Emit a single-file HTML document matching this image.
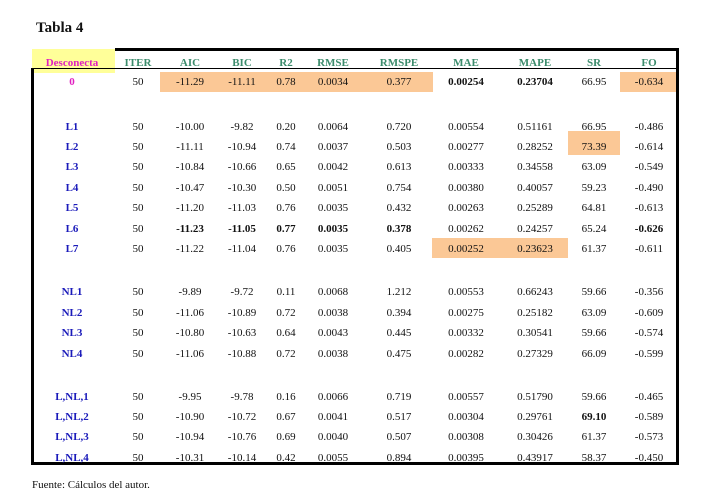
<!DOCTYPE html>
<html><head><meta charset="utf-8"><style>
body{margin:0;width:727px;height:502px;background:#fff;position:relative;overflow:hidden;font-family:"Liberation Serif",serif;font-size:11px;color:#111}
.a{position:absolute}
.t{position:absolute;width:70px;margin-left:-35px;text-align:center;line-height:14px}
.h{color:#3c8c6c;font-weight:bold}
.l{color:#1a1aba;font-weight:bold}
.b{font-weight:bold}
.hl{position:absolute;background:#fbc896}
</style></head><body>
<div class="a" style="left:36px;top:20px;font-size:15px;font-weight:bold">Tabla 4</div>
<div class="a" style="left:32px;top:49px;width:83px;height:24px;background:#ffff99"></div>
<div class="a" style="left:115px;top:48px;width:564px;height:3px;background:#000"></div>
<div class="a" style="left:33px;top:68px;width:646px;height:1px;background:#000"></div>
<div class="a" style="left:31px;top:68px;width:3px;height:397px;background:#000"></div>
<div class="a" style="left:676px;top:48px;width:3px;height:417px;background:#000"></div>
<div class="a" style="left:31px;top:462px;width:648px;height:3px;background:#000"></div>
<div class="hl" style="left:160px;top:72px;width:273px;height:20px"></div>
<div class="hl" style="left:620px;top:72px;width:56px;height:20px"></div>
<div class="hl" style="left:568px;top:131px;width:52px;height:24px"></div>
<div class="hl" style="left:432px;top:238px;width:136px;height:20px"></div>
<div class="a" style="left:32px;top:479px;font-size:11px">Fuente: Cálculos del autor.</div>
<div id="c"></div>
<script>
var xs=[72,138,190,242,286,333,399,466,535,594,649];
var H=["Desconecta","ITER","AIC","BIC","R2","RMSE","RMSPE","MAE","MAPE","SR","FO"];
var rows=[
[82,"0","50","-11.29","-11.11","0.78","0.0034","0.377","0.00254","0.23704","66.95","-0.634"],
[127,"L1","50","-10.00","-9.82","0.20","0.0064","0.720","0.00554","0.51161","66.95","-0.486"],
[147,"L2","50","-11.11","-10.94","0.74","0.0037","0.503","0.00277","0.28252","73.39","-0.614"],
[167,"L3","50","-10.84","-10.66","0.65","0.0042","0.613","0.00333","0.34558","63.09","-0.549"],
[188,"L4","50","-10.47","-10.30","0.50","0.0051","0.754","0.00380","0.40057","59.23","-0.490"],
[208,"L5","50","-11.20","-11.03","0.76","0.0035","0.432","0.00263","0.25289","64.81","-0.613"],
[229,"L6","50","-11.23","-11.05","0.77","0.0035","0.378","0.00262","0.24257","65.24","-0.626"],
[249,"L7","50","-11.22","-11.04","0.76","0.0035","0.405","0.00252","0.23623","61.37","-0.611"],
[292,"NL1","50","-9.89","-9.72","0.11","0.0068","1.212","0.00553","0.66243","59.66","-0.356"],
[313,"NL2","50","-11.06","-10.89","0.72","0.0038","0.394","0.00275","0.25182","63.09","-0.609"],
[333,"NL3","50","-10.80","-10.63","0.64","0.0043","0.445","0.00332","0.30541","59.66","-0.574"],
[354,"NL4","50","-11.06","-10.88","0.72","0.0038","0.475","0.00282","0.27329","66.09","-0.599"],
[397,"L,NL,1","50","-9.95","-9.78","0.16","0.0066","0.719","0.00557","0.51790","59.66","-0.465"],
[417,"L,NL,2","50","-10.90","-10.72","0.67","0.0041","0.517","0.00304","0.29761","69.10","-0.589"],
[437,"L,NL,3","50","-10.94","-10.76","0.69","0.0040","0.507","0.00308","0.30426","61.37","-0.573"],
[458,"L,NL,4","50","-10.31","-10.14","0.42","0.0055","0.894","0.00395","0.43917","58.37","-0.450"]];
var bold={"0":[7,8],"L6":[2,3,4,5,6,10],"L,NL,2":[9]};
var s="";
H.forEach(function(h,i){s+='<div class="t h" style="left:'+xs[i]+'px;top:56px;'+(i==0?'color:#e020c0':'')+'">'+h+'</div>';});
rows.forEach(function(r){var y=r[0]-7;for(var i=0;i<11;i++){var c="t";if(i==0)c+=" l";if(bold[r[1]]&&bold[r[1]].indexOf(i)>=0)c+=" b";
var st=(i==0&&r[1]=="0")?"color:#e020c0;":"";s+='<div class="'+c+'" style="'+st+'left:'+xs[i]+'px;top:'+y+'px">'+r[i+1]+'</div>';}});
document.getElementById("c").innerHTML=s;
</script>
</body></html>
